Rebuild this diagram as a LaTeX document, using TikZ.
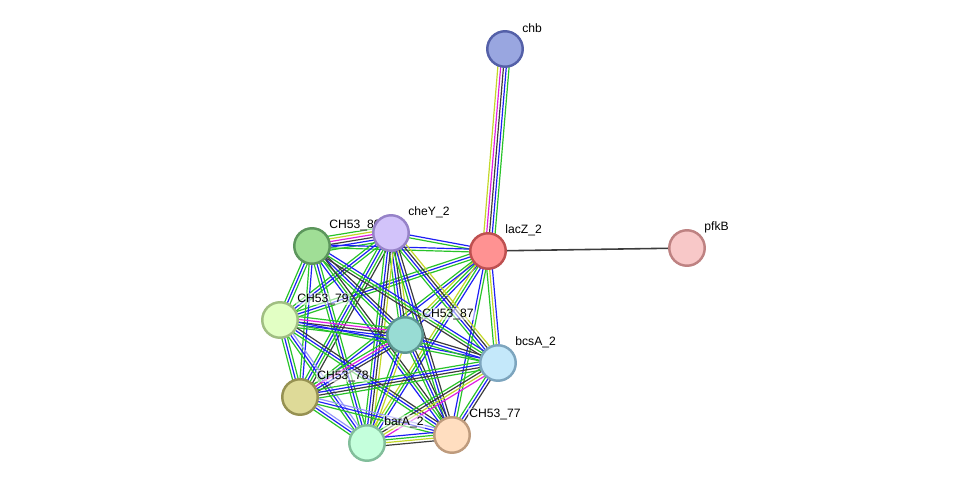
\documentclass[tikz,border=0pt]{standalone}
\usepackage{fontspec}
\setmainfont{Liberation Sans}
\usepackage{xcolor}
\usepackage{tikz}
\usetikzlibrary{calc}
\pgfdeclarelayer{edges}
\pgfdeclarelayer{labels}
\pgfsetlayers{edges,labels,main}

\definecolor{evGreen}{RGB}{40,195,40}
\definecolor{evBlue}{RGB}{30,30,245}
\definecolor{evBlack}{RGB}{60,60,60}
\definecolor{evYellow}{RGB}{195,215,40}
\definecolor{evMagenta}{RGB}{225,30,225}
\definecolor{evLilac}{RGB}{150,150,250}

\tikzstyle{tsProtein} = [
    circle,
    inner sep=0pt,
    minimum size=0.71cm,
    line width=1.4pt
]
\tikzstyle{tsLabel} = [
    text=black,
    font=\fontsize{6.9}{8}\selectfont,
    anchor=west,
    inner sep=0.6pt,
    fill=white,
    fill opacity=0.55,
    text opacity=1
]
\tikzstyle{gn} = [draw=evGreen, line width=0.68pt]
\tikzstyle{bl} = [draw=evBlue, line width=0.68pt]
\tikzstyle{bk} = [draw=evBlack, line width=0.68pt]
\tikzstyle{ye} = [draw=evYellow, line width=0.68pt]
\tikzstyle{mg} = [draw=evMagenta, line width=0.68pt]
\tikzstyle{lb} = [draw=evLilac, line width=0.68pt]

% bundle of parallel evidence lines between two proteins
\newcommand\evidence[3]{%
    \gdef\nlines{0}%
    \foreach \cl in {#3}{\xdef\nlines{\the\numexpr\nlines+1\relax}}%
    \foreach \cl [count=\k] in {#3}{%
        \pgfmathsetmacro\off{(\k-(\nlines+1)/2)*1.6}%
        \draw[\cl] ($(#1)!\off pt!90:(#2)$) -- ($(#2)!\off pt!-90:(#1)$);
    }%
}

\begin{document}
\begin{tikzpicture}[x=0.02cm, y=-0.02cm]

        \useasboundingbox (0,0) rectangle (975,490);

        % proteins
        \node[tsProtein, fill={rgb,255:red,153;green,166;blue,224}, draw={rgb,255:red,84;green,96;blue,168}] (chb) at (505,49) {};
        \node[tsProtein, fill={rgb,255:red,255;green,146;blue,146}, draw={rgb,255:red,190;green,80;blue,80}] (lacZ) at (488,251) {};
        \node[tsProtein, fill={rgb,255:red,248;green,200;blue,200}, draw={rgb,255:red,190;green,130;blue,130}] (pfkB) at (687,248) {};
        \node[tsProtein, fill={rgb,255:red,210;green,195;blue,250}, draw={rgb,255:red,150;green,130;blue,200}] (cheY) at (391,233) {};
        \node[tsProtein, fill={rgb,255:red,160;green,222;blue,150}, draw={rgb,255:red,92;green,150;blue,92}] (ch80) at (312,246) {};
        \node[tsProtein, fill={rgb,255:red,226;green,255;blue,196}, draw={rgb,255:red,160;green,190;blue,130}] (ch79) at (280,320) {};
        \node[tsProtein, fill={rgb,255:red,152;green,220;blue,212}, draw={rgb,255:red,92;green,150;blue,145}] (ch87) at (405,335) {};
        \node[tsProtein, fill={rgb,255:red,196;green,232;blue,250}, draw={rgb,255:red,125;green,165;blue,190}] (bcsA) at (498,363) {};
        \node[tsProtein, fill={rgb,255:red,222;green,218;blue,152}, draw={rgb,255:red,150;green,145;blue,82}] (ch78) at (300,397) {};
        \node[tsProtein, fill={rgb,255:red,196;green,255;blue,220}, draw={rgb,255:red,130;green,190;blue,155}] (barA) at (367,443) {};
        \node[tsProtein, fill={rgb,255:red,255;green,222;blue,192}, draw={rgb,255:red,190;green,155;blue,125}] (ch77) at (452,435) {};

        % names
        \begin{pgfonlayer}{labels}
        \node[tsLabel] (lChb)  at ([shift={(16,-21)}]chb.center)  {chb};
        \node[tsLabel] (lLacZ) at ([shift={(16,-21)}]lacZ.center) {lacZ\_2};
        \node[tsLabel] (lPfkB) at ([shift={(16,-21)}]pfkB.center) {pfkB};
        \node[tsLabel] (lCheY) at ([shift={(16,-21)}]cheY.center) {cheY\_2};
        \node[tsLabel] (l80)   at ([shift={(16,-21)}]ch80.center) {CH53\_80};
        \node[tsLabel] (l79)   at ([shift={(16,-21)}]ch79.center) {CH53\_79};
        \node[tsLabel] (l87)   at ([shift={(16,-21)}]ch87.center) {CH53\_87};
        \node[tsLabel] (lBcsA) at ([shift={(16,-21)}]bcsA.center) {bcsA\_2};
        \node[tsLabel] (l78)   at ([shift={(16,-21)}]ch78.center) {CH53\_78};
        \node[tsLabel] (lBarA) at ([shift={(16,-21)}]barA.center) {barA\_2};
        \node[tsLabel] (l77)   at ([shift={(16,-21)}]ch77.center) {CH53\_77};
        \end{pgfonlayer}

        % evidence lines
        \begin{pgfonlayer}{edges}
        \draw[draw=evBlack, line width=0.9pt] (lacZ) -- (pfkB);
        \evidence{chb}{lacZ}{ye,mg,bk,bl,gn}

        \evidence{ch80}{cheY}{gn,bl,bk,mg,ye,gn}
        \evidence{lacZ}{cheY}{bl,gn}
        \evidence{lacZ}{ch80}{bl,gn}
        \evidence{lacZ}{ch79}{gn,bl,gn}
        \evidence{lacZ}{ch87}{ye,gn,bl}
        \evidence{lacZ}{ch78}{gn,bl}
        \evidence{lacZ}{barA}{ye,gn,bl}
        \evidence{lacZ}{ch77}{bl,gn}
        \evidence{lacZ}{bcsA}{gn,ye,bl}

        \evidence{cheY}{ch87}{gn,bl,bk,ye}
        \evidence{cheY}{bcsA}{gn,bl,bk,ye}
        \evidence{cheY}{ch79}{gn,bl,gn}
        \evidence{cheY}{ch78}{gn,bl,gn,bk}
        \evidence{cheY}{barA}{gn,bl,bk,ye}
        \evidence{cheY}{ch77}{gn,bl,bk}

        \evidence{ch80}{ch79}{gn,bl,gn}
        \evidence{ch80}{ch87}{gn,bl,bk}
        \evidence{ch80}{bcsA}{bk,gn,bl}
        \evidence{ch80}{ch78}{gn,bl}
        \evidence{ch80}{barA}{gn,bl,gn}
        \evidence{ch80}{ch77}{bl,gn,bk}

        \evidence{ch79}{ch87}{gn,bl,bk,mg,gn}
        \evidence{ch79}{bcsA}{gn,bl}
        \evidence{ch79}{ch78}{gn,bl,gn}
        \evidence{ch79}{barA}{gn,bl,lb}
        \evidence{ch79}{ch77}{gn,bl,bk}

        \evidence{ch87}{bcsA}{gn,bl,bk}
        \evidence{ch87}{ch78}{gn,mg,bl,bk}
        \evidence{ch87}{barA}{gn,bl,ye}
        \evidence{ch87}{ch77}{gn,bl,bk}

        \evidence{bcsA}{ch78}{gn,bl,bk,gn}
        \evidence{bcsA}{barA}{gn,bk,ye,mg}
        \evidence{bcsA}{ch77}{gn,bl,bk}

        \evidence{ch78}{barA}{gn,bl,lb}
        \evidence{ch78}{ch77}{gn,bl,lb}
        \evidence{barA}{ch77}{bk,ye,gn,bl}
        \end{pgfonlayer}

\end{tikzpicture}
\end{document}
